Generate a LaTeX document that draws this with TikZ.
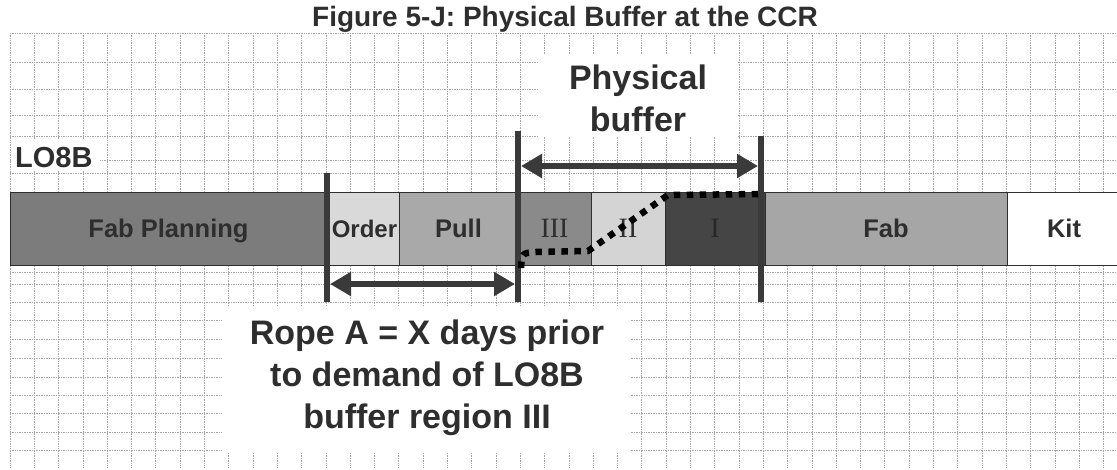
\documentclass[tikz,border=0pt]{standalone}
\usepackage{fontspec}
\setmainfont{Liberation Sans}
\newfontfamily\romanfont{Liberation Serif}
\usetikzlibrary{arrows.meta}
\definecolor{ink}{HTML}{2E2E2E}
\definecolor{barline}{HTML}{3A3A3A}
\definecolor{cFP}{HTML}{7C7C7C}
\definecolor{cOrder}{HTML}{D9D9D9}
\definecolor{cPull}{HTML}{A9A9A9}
\definecolor{cIII}{HTML}{8A8A8A}
\definecolor{cII}{HTML}{D4D4D4}
\definecolor{cI}{HTML}{454545}
\definecolor{cFab}{HTML}{A6A6A6}
\tikzset{
  gridline/.style={draw=gray!70, line width=0.7pt, densely dotted},
  seg/.style={draw=ink, line width=0.8pt, minimum height=73pt, inner sep=0pt, outer sep=0pt,
    anchor=west, text=ink, text height=18pt, text depth=0pt,
    font=\fontsize{25.5}{25.5}\selectfont\bfseries},
  romanseg/.style={seg, font=\fontsize{28}{28}\selectfont\romanfont},
  vline/.style={draw=barline, line width=6pt},
  dimarrow/.style={draw=barline, line width=6pt,
    {Triangle[length=21pt,width=23pt]}-{Triangle[length=21pt,width=23pt]}},
  dotline/.style={draw=black, line width=6.5pt, dash pattern=on 6.5pt off 6.5pt},
  biglabel/.style={align=center, text=ink, font=\fontsize{34}{42}\selectfont\bfseries}
}
\begin{document}
\begin{tikzpicture}[x=1pt,y=-1pt]
\useasboundingbox (0,0) rectangle (1117,469);
\fill[white] (0,0) rectangle (1117,469);
% grid
\foreach \k in {0,...,45} \draw[gridline] ({10+24.3*\k},33) -- ({10+24.3*\k},468);
\foreach \yy in {33,62,89,115,136,160,173,272,284,302,320,339,358,377,395,413,432,450}
  \draw[gridline] (10,\yy) -- (1117,\yy);
% white label backgrounds
\fill[white] (538,55) rectangle (738,137);
\fill[white] (222,306) rectangle (630,453);
\fill[white] (11,139) rectangle (100,171);
% title
\node[font=\fontsize{28}{28}\selectfont\bfseries, text=ink, anchor=base] (title) at (565,26)
  {Figure 5-J: Physical Buffer at the CCR};
\node[font=\fontsize{29}{29}\selectfont\bfseries, text=ink, anchor=base west, inner sep=0pt] (lo8b) at (15,167) {LO8B};
% bar segments
\node[seg, fill=cFP, minimum width=317pt] (fp) at (10,228.5) {Fab Planning};
\node[seg, fill=cOrder, minimum width=72pt, font=\fontsize{24}{24}\selectfont\bfseries] (order) at (327,228.5) {\hspace*{3pt}Order};
\node[seg, fill=cPull, minimum width=119pt] (pull) at (399,228.5) {Pull};
\node[romanseg, fill=cIII, minimum width=73pt] (r3) at (518,228.5) {III};
\node[romanseg, fill=cII, minimum width=74pt] (r2) at (591,228.5) {II};
\node[romanseg, fill=cI, minimum width=100pt, text=black!85] (r1) at (665,228.5) {I};
\node[seg, fill=cFab, minimum width=242pt] (fab) at (765,228.5) {Fab};
\node[seg, fill=white, minimum width=114pt] (kit) at (1007,228.5) {Kit};
% vertical markers
\coordinate (a1) at (327,173); \coordinate (a2) at (327,302);
\coordinate (b1) at (518,131); \coordinate (b2) at (518,302);
\coordinate (c1) at (761,136); \coordinate (c2) at (761,302);
\draw[vline] (a1) -- (a2);
\draw[vline] (b1) -- (b2);
\draw[vline] (c1) -- (c2);
% dimension arrows
\coordinate (pbL) at (521,166); \coordinate (pbR) at (758,166);
\coordinate (rL) at (330,284); \coordinate (rR) at (515,284);
\draw[dimarrow] (pbL) -- (pbR);
\draw[dimarrow] (rL) -- (rR);
% dotted buffer profile
\coordinate (d0) at (521,268);
\coordinate (d1) at (588,251);
\coordinate (d2) at (668,195);
\coordinate (d3) at (764,194);
\draw[dotline] (d0) .. controls (522,253) .. (536,252) -- (d1) -- (d2) -- (d3);
% labels
\node[biglabel] (pb) at (638,98.5) {Physical\\buffer};
\node[biglabel] (rope) at (427,378) {Rope A = X days prior\\to demand of LO8B\\buffer region III};
\end{tikzpicture}
\end{document}
